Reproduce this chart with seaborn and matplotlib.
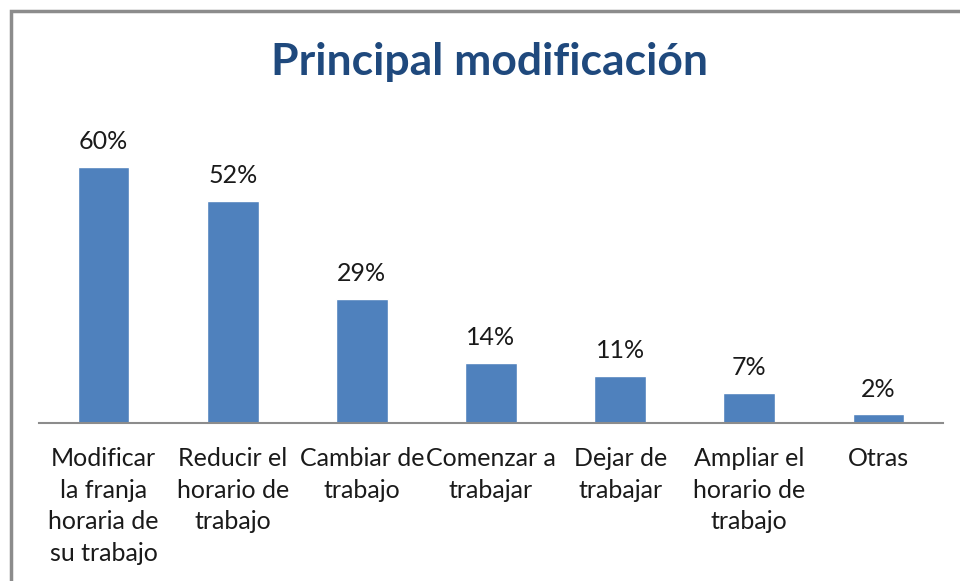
import matplotlib
matplotlib.use("Agg")
import matplotlib.pyplot as plt
import seaborn as sns
import pandas as pd
from matplotlib.patches import Rectangle

categories = ["Modificar\nla franja\nhoraria de\nsu trabajo", "Reducir el\nhorario de\ntrabajo",
              "Cambiar de\ntrabajo", "Comenzar a\ntrabajar", "Dejar de\ntrabajar",
              "Ampliar el\nhorario de\ntrabajo", "Otras"]
values = [60, 52, 29, 14, 11, 7, 2]
value_labels = ["60%", "52%", "29%", "14%", "11%", "7%", "2%"]
title = "Principal modificación"

sns.set_theme(style="white")
plt.rcParams['font.family'] = ['Lato', 'DejaVu Sans']

df = pd.DataFrame({"cat": categories, "val": values})

fig = plt.figure(figsize=(9.6, 5.81), dpi=100)
W, H = 960, 581
ax = fig.add_axes([39 / W, 1 - 423 / H, (943 - 39) / W, (423 - 124.3) / H])

sns.barplot(data=df, x="cat", y="val", color="#4F81BD", saturation=1, width=0.4, ax=ax)
ax.set_ylim(0, 70)
ax.set_xlim(-0.5, len(categories) - 0.5)
ax.bar_label(ax.containers[0], labels=value_labels, padding=10, fontsize=18, color="#1a1a1a")

for s in ["top", "right", "left"]:
    ax.spines[s].set_visible(False)
ax.spines["bottom"].set_color("#8c8c8c")
ax.spines["bottom"].set_linewidth(1.5)
ax.set_yticks([])
ax.set_xlabel("")
ax.set_ylabel("")
ax.tick_params(axis="x", length=0, pad=17, labelsize=18, labelcolor="#1a1a1a")
for t in ax.get_xticklabels():
    t.set_linespacing(1.47)
    t.set_verticalalignment("top")
ax.set_facecolor("none")

fig.text(490 / W, 1 - 62 / H, title, ha="center", va="center", fontsize=32,
         fontweight="bold", color="#1F497D")

fig.patches.append(Rectangle((11 / W, -0.1), 1.2, 1 - 11 / H + 0.1, transform=fig.transFigure,
                             fill=False, edgecolor="#8c8c8c", linewidth=2.5, zorder=-1))

fig.savefig("out.png", dpi=100)
